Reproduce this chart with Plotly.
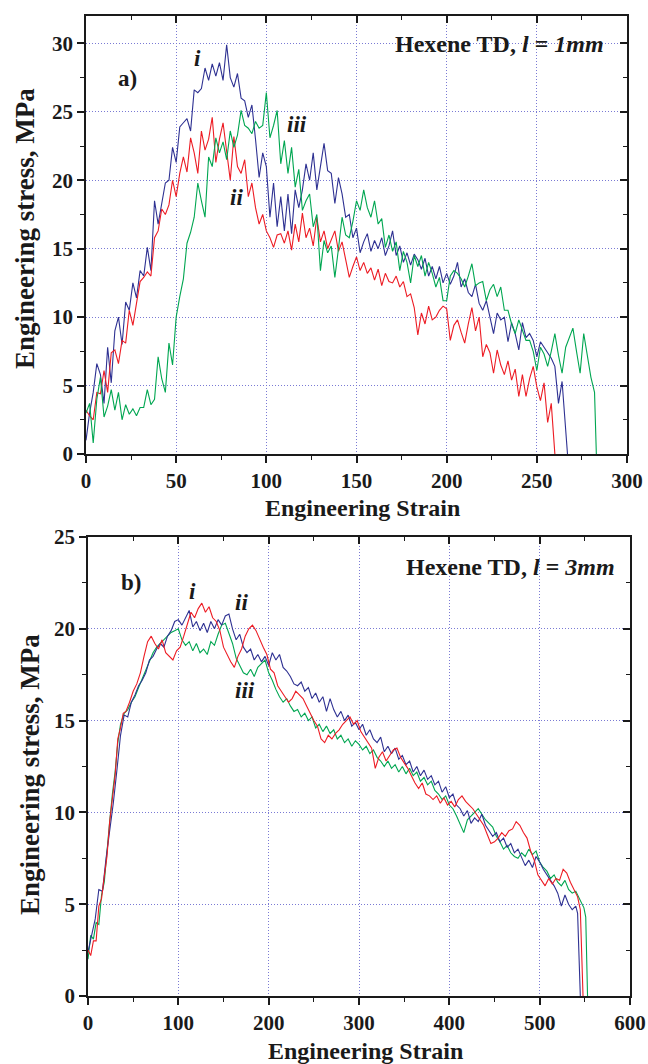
import plotly.graph_objects as go

# ---------------- Panel a) Hexene TD, l = 1mm ----------------
a_strain_i = [0,2,4,6,8,10,12,14,16,18,20,22,24,26,28,30,32,34,36,38,40,42,44,46,48,50,52,54,56,58,60,62,64,66,68,70,72,74,76,78,80,82,84,86,88,90,92,94,96,98,100,102,104,106,108,110,112,114,116,118,120,122,124,126,128,130,132,134,136,138,140,142,144,146,148,150,152,154,156,158,160,162,164,166,168,170,172,174,176,178,180,182,184,186,188,190,192,194,196,198,200,202,204,206,208,210,212,214,216,218,220,222,224,226,228,230,232,234,236,238,240,242,244,246,248,250,252,254,256,258,260,262,264,267]
a_stress_i = [1.0,3.0,4.5,6.6,5.8,3.7,7.8,5.2,9.0,10.0,8.0,11.1,10.5,12.5,11.4,13.4,13.0,15.1,13.4,18.5,16.8,18.2,19.8,20.0,22.4,21.3,23.9,24.2,24.5,23.6,26.6,26.4,26.7,28.2,27.3,28.5,27.6,28.6,27.3,29.9,27.5,26.8,27.8,26.0,25.8,24.6,25.5,23.0,20.2,22.0,21.0,17.3,19.8,16.6,18.8,16.3,19.0,16.1,19.3,18.0,19.3,21.2,20.0,22.0,19.3,21.0,22.7,20.7,20.5,18.3,20.2,19.0,17.3,17.5,15.8,16.5,14.7,15.5,16.1,14.8,15.6,15.0,15.8,14.5,15.2,16.3,14.5,15.2,14.0,14.7,13.8,14.6,14.2,13.5,14.3,13.0,13.7,12.8,13.7,12.5,13.2,12.4,13.0,14.0,12.2,12.8,11.8,11.5,12.4,11.0,10.5,11.2,10.0,8.8,10.3,9.8,10.0,8.2,9.6,8.8,7.6,9.6,8.5,8.8,8.3,7.1,8.2,7.8,7.4,7.0,6.4,3.7,5.3,0.0]

a_strain_ii = [0,2,4,6,8,10,12,14,16,18,20,22,24,26,28,30,32,34,36,38,40,42,44,46,48,50,52,54,56,58,60,62,64,66,68,70,72,74,76,78,80,82,84,86,88,90,92,94,96,98,100,102,104,106,108,110,112,114,116,118,120,122,124,126,128,130,132,134,136,138,140,142,144,146,148,150,152,154,156,158,160,162,164,166,168,170,172,174,176,178,180,182,184,186,188,190,192,194,196,198,200,202,204,206,208,210,212,214,216,218,220,222,224,226,228,230,232,234,236,238,240,242,244,246,248,250,252,254,256,258,260]
a_stress_ii = [3.2,2.8,2.5,4.5,4.4,6.1,4.5,7.4,7.6,6.6,8.3,8.1,10.5,9.4,11.0,12.6,12.9,13.3,13.0,15.8,16.3,17.9,17.5,18.2,20.0,18.8,20.5,21.7,20.6,23.1,22.0,20.5,23.6,22.2,23.0,24.6,21.3,23.0,24.2,22.0,20.0,23.2,21.0,20.5,21.5,18.8,19.8,18.0,16.8,17.5,16.3,15.8,15.1,16.0,16.1,15.4,16.3,14.9,16.8,15.5,17.6,15.8,16.5,15.2,17.3,15.5,16.3,15.0,15.6,16.3,14.8,15.5,14.2,12.9,13.7,14.4,13.4,14.0,13.2,13.6,12.7,13.5,12.3,13.2,12.6,12.5,13.0,12.2,12.6,11.5,11.7,10.7,8.7,10.3,9.5,10.8,9.8,10.0,10.5,10.8,10.6,8.3,9.4,9.8,8.9,8.1,9.5,10.7,9.0,10.0,7.1,8.0,7.4,5.9,7.6,6.5,5.8,6.8,5.4,6.2,4.2,5.8,4.2,5.5,6.4,4.9,3.9,5.2,2.3,3.7,0.0]

a_strain_iii = [0,2,4,6,8,10,12,14,16,18,20,22,24,26,28,30,32,34,36,38,40,42,44,46,48,50,52,54,56,58,60,62,64,66,68,70,72,74,76,78,80,82,84,86,88,90,92,94,96,98,100,102,104,106,108,110,112,114,116,118,120,122,124,126,128,130,132,134,136,138,140,142,144,146,148,150,152,154,156,158,160,162,164,166,168,170,172,174,176,178,180,182,184,186,188,190,192,194,196,198,200,202,204,206,208,210,212,214,216,218,220,222,224,226,228,230,232,234,236,238,240,242,244,246,248,250,252,254,256,258,260,262,264,266,268,270,272,274,276,278,280,282,283]
a_stress_iii = [3.0,3.7,0.8,4.0,5.6,2.7,3.5,4.7,3.2,4.5,2.5,3.6,2.9,3.3,2.8,3.4,3.4,4.7,3.6,4.0,7.1,5.5,4.5,8.1,6.5,10.0,11.5,12.8,15.4,16.2,17.3,19.8,18.5,17.3,21.7,21.0,23.1,22.0,22.8,21.5,23.6,22.4,23.3,25.1,24.0,23.8,23.4,24.3,23.8,24.0,26.4,23.1,24.0,25.1,21.2,22.9,20.5,22.4,19.5,20.8,17.8,18.5,19.0,16.6,17.5,13.4,15.6,14.7,15.2,12.9,15.0,17.3,16.0,15.8,17.0,18.5,17.8,19.3,18.0,17.3,18.5,16.8,17.2,15.1,16.0,14.8,15.5,13.4,14.8,14.0,12.5,14.5,13.7,14.5,13.0,14.0,13.2,12.2,12.9,11.2,11.2,13.0,13.4,13.2,12.8,12.2,13.0,13.9,12.3,12.5,12.6,11.2,12.0,12.4,11.5,12.2,10.5,10.5,9.5,8.8,9.8,9.0,8.3,8.3,7.5,6.1,7.8,7.3,6.4,7.5,8.8,7.2,5.9,7.8,8.5,9.2,7.5,5.9,8.8,7.3,5.6,4.5,0.0]

# ---------------- Panel b) Hexene TD, l = 3mm ----------------
b_strain_i = [0,4,8,12,16,20,24,28,32,36,40,44,48,52,56,60,64,68,72,76,80,84,88,92,96,100,104,108,112,116,120,124,128,132,136,140,144,148,152,156,160,164,168,172,176,180,184,188,192,196,200,204,208,212,216,220,224,228,232,236,240,244,248,252,256,260,264,268,272,276,280,284,288,292,296,300,304,308,312,316,320,324,328,332,336,340,344,348,352,356,360,364,368,372,376,380,384,388,392,396,400,404,408,412,416,420,424,428,432,436,440,444,448,452,456,460,464,468,472,476,480,484,488,492,496,500,504,508,512,516,520,524,528,532,536,540,542,545]
b_stress_i = [2.4,3.3,4.2,5.8,5.7,7.5,8.9,10.5,12.3,14.2,15.3,15.2,16.0,16.4,16.9,17.2,17.6,18.3,18.5,18.9,19.2,19.0,19.6,19.9,20.4,20.5,20.2,20.6,21.0,20.1,20.4,19.9,20.3,19.8,20.4,20.0,20.5,20.2,20.7,20.8,20.0,19.4,19.7,19.0,18.7,18.9,18.3,18.6,18.2,18.5,18.0,18.7,18.3,18.6,17.9,17.7,17.4,17.0,16.9,17.1,16.6,16.8,16.2,16.5,16.0,16.3,15.5,16.2,15.6,15.2,15.5,15.0,15.3,14.7,14.9,14.5,14.8,14.2,14.5,14.0,13.8,14.1,13.3,13.6,13.2,13.5,12.9,13.1,12.6,12.8,12.2,12.5,12.0,12.3,11.8,12.0,11.5,11.7,11.1,11.4,10.8,11.0,10.4,10.2,9.8,10.1,9.4,9.7,9.5,9.9,9.3,9.0,8.7,8.9,8.4,8.6,8.1,8.3,7.8,8.0,7.5,7.1,7.4,7.0,7.6,7.3,6.9,6.6,6.3,6.0,5.6,4.9,5.5,5.0,4.7,4.9,4.5,0.0]

b_strain_ii = [0,3,6,9,12,15,18,21,24,27,30,33,36,39,42,46,50,54,58,62,66,70,74,78,82,86,90,94,98,102,106,110,114,118,122,126,130,134,138,142,146,150,154,158,162,166,170,174,178,182,186,190,194,198,202,206,210,214,218,222,226,230,234,238,242,246,250,254,258,262,266,270,274,278,282,286,290,294,298,302,306,310,314,318,322,326,330,334,338,342,346,350,354,358,362,366,370,374,378,382,386,390,394,398,402,406,410,414,418,422,426,430,434,438,442,446,450,454,458,462,466,470,474,478,482,486,490,494,498,502,506,510,514,518,522,526,530,534,538,542,545,548]
b_stress_ii = [2.5,2.2,3.0,3.0,4.9,5.3,6.5,7.6,9.5,10.7,12.0,14.0,14.6,15.4,15.5,16.0,16.6,17.0,17.6,18.5,19.3,19.6,19.2,18.9,19.4,18.7,18.5,18.3,18.8,19.0,19.6,20.3,20.9,20.6,21.1,21.4,20.9,21.2,20.6,20.4,19.9,19.0,18.6,18.2,17.9,18.5,18.9,19.6,20.0,20.2,19.9,19.4,19.0,18.6,17.8,17.6,16.9,16.6,16.3,16.0,16.2,16.6,16.4,16.2,15.8,15.4,15.0,14.7,14.0,13.8,14.2,14.0,14.3,14.5,14.8,15.0,15.2,14.8,15.0,14.4,14.1,13.8,13.5,12.4,13.0,13.3,12.8,13.1,13.4,13.5,13.0,12.7,12.4,12.0,11.6,11.3,11.6,11.0,10.9,10.7,10.9,10.5,10.8,10.4,10.6,10.3,10.7,10.9,10.6,10.4,10.2,9.9,9.6,9.3,8.8,8.3,8.4,8.6,8.9,8.7,9.0,9.1,9.5,9.3,8.9,8.6,7.9,7.4,6.6,6.3,6.0,6.4,6.1,6.4,6.3,6.9,6.7,6.2,5.8,5.4,4.7,0.0]

b_strain_iii = [0,3,6,9,12,15,18,21,24,27,30,33,36,40,44,48,52,56,60,64,68,72,76,80,84,88,92,96,100,104,108,112,116,120,124,128,132,136,140,144,148,152,156,160,164,168,172,176,180,184,188,192,196,200,204,208,212,216,220,224,228,232,236,240,244,248,252,256,260,264,268,272,276,280,284,288,292,296,300,304,308,312,316,320,324,328,332,336,340,344,348,352,356,360,364,368,372,376,380,384,388,392,396,400,404,408,412,416,420,424,428,432,436,440,444,448,452,456,460,464,468,472,476,480,484,488,492,496,500,504,508,512,516,520,524,528,532,536,540,544,547,549,551,553]
b_stress_iii = [2.0,3.3,3.1,4.0,3.9,5.5,6.2,8.0,9.5,11.0,12.2,13.8,14.8,15.4,15.6,16.0,16.3,16.8,17.3,17.8,18.3,18.7,19.0,19.2,19.4,19.6,19.8,19.9,20.0,19.4,19.1,19.3,18.8,19.2,18.7,18.9,18.6,19.3,19.1,19.7,20.2,20.3,19.8,19.2,18.4,18.0,17.6,17.5,17.8,17.4,17.9,18.1,18.3,17.6,17.2,16.7,16.3,16.0,16.2,15.8,15.5,15.6,15.2,15.4,15.0,15.2,14.6,14.8,14.4,14.7,14.3,14.5,14.0,14.2,13.8,14.0,13.6,13.9,13.7,13.4,13.6,13.2,13.4,13.0,12.8,12.5,12.8,12.4,12.6,12.2,12.5,12.1,12.4,12.0,12.2,11.7,11.9,11.5,11.7,11.2,11.0,10.7,10.9,10.4,10.2,9.8,9.3,8.9,9.6,9.8,10.0,10.2,9.9,9.6,9.4,9.2,8.7,8.4,8.0,8.2,7.8,7.6,7.5,7.8,7.6,8.0,7.7,7.9,7.3,7.0,6.8,6.4,6.6,6.2,6.0,6.3,5.8,5.6,5.7,5.3,5.0,4.8,4.3,0.0]

COLORS = {"i": "#2e3192", "ii": "#ed1c24", "iii": "#00a651"}
FONT = "Liberation Serif"
W, H = 648, 1064

def px(x):
    return x / W

def py(y):
    return 1 - y / H

fig = go.Figure()
for xs, ys, key in [(a_strain_i, a_stress_i, "i"), (a_strain_ii, a_stress_ii, "ii"), (a_strain_iii, a_stress_iii, "iii")]:
    fig.add_trace(go.Scatter(x=xs, y=ys, mode="lines", line=dict(color=COLORS[key], width=1.1),
                             xaxis="x", yaxis="y", showlegend=False, hoverinfo="skip"))
for xs, ys, key in [(b_strain_iii, b_stress_iii, "iii"), (b_strain_i, b_stress_i, "i"), (b_strain_ii, b_stress_ii, "ii")]:
    fig.add_trace(go.Scatter(x=xs, y=ys, mode="lines", line=dict(color=COLORS[key], width=1.1),
                             xaxis="x2", yaxis="y2", showlegend=False, hoverinfo="skip"))
# dummy traces to activate mirror-tick axes
fig.add_trace(go.Scatter(x=[None], y=[None], xaxis="x3", yaxis="y3", showlegend=False))
fig.add_trace(go.Scatter(x=[None], y=[None], xaxis="x4", yaxis="y4", showlegend=False))

tickfont = dict(family=FONT, size=21, color="#1a1a1a", weight="bold")
grid = dict(showgrid=True, gridcolor="#7a7ad4", griddash="1px,2px", gridwidth=1)
base = dict(showline=True, linecolor="#1a1a1a", linewidth=1.8, mirror=True, ticks="outside",
            ticklen=7, tickwidth=1.5, tickcolor="#1a1a1a", tickfont=tickfont, zeroline=False,
            automargin=False)
mirror_ax = dict(showline=False, ticks="inside", ticklen=7, tickwidth=1.5, tickcolor="#1a1a1a",
                 showticklabels=False, showgrid=False, zeroline=False, automargin=False)

xa_dom = [px(86), px(627)]
ya_dom = [py(454), py(16)]
xb_dom = [px(88), px(630)]
yb_dom = [py(996), py(537)]

minor_out = dict(ticks="outside", ticklen=4, tickwidth=1.2, tickcolor="#1a1a1a", showgrid=False)
minor_in = dict(ticks="inside", ticklen=4, tickwidth=1.2, tickcolor="#1a1a1a", showgrid=False)

fig.update_layout(
    width=W, height=H, margin=dict(l=0, r=0, t=0, b=0, autoexpand=False), autosize=False,
    paper_bgcolor="white", plot_bgcolor="white",
    xaxis=dict(domain=xa_dom, anchor="y", range=[0, 300], dtick=50, tick0=0,
               minor=dict(dtick=25, **minor_out), **grid, **base),
    yaxis=dict(domain=ya_dom, anchor="x", range=[0, 32], dtick=5, tick0=0,
               minor=dict(dtick=2.5, **minor_out), **grid, **base),
    xaxis2=dict(domain=xb_dom, anchor="y2", range=[0, 600], dtick=100, tick0=0,
                minor=dict(dtick=50, **minor_out), **grid, **base),
    yaxis2=dict(domain=yb_dom, anchor="x2", range=[0, 25], dtick=5, tick0=0,
                minor=dict(dtick=2.5, **minor_out), **grid, **base),
    xaxis3=dict(overlaying="x", anchor="y", side="top", range=[0, 300], dtick=50, tick0=0,
                minor=dict(dtick=25, **minor_in), **mirror_ax),
    yaxis3=dict(overlaying="y", anchor="x", side="right", range=[0, 32], dtick=5, tick0=0,
                minor=dict(dtick=2.5, **minor_in), **mirror_ax),
    xaxis4=dict(overlaying="x2", anchor="y2", side="top", range=[0, 600], dtick=100, tick0=0,
                minor=dict(dtick=50, **minor_in), **mirror_ax),
    yaxis4=dict(overlaying="y2", anchor="x2", side="right", range=[0, 25], dtick=5, tick0=0,
                minor=dict(dtick=2.5, **minor_in), **mirror_ax),
)

def ann(text, x, y, size=24, angle=0, xanchor="center"):
    fig.add_annotation(text=text, x=px(x), y=py(y), xref="paper", yref="paper", showarrow=False,
                       textangle=angle, xanchor=xanchor, yanchor="middle",
                       font=dict(family=FONT, size=size, color="#1a1a1a"))

# axis titles
ann("<b>Engineering Strain</b>", 362, 508, size=24)
ann("<b>Engineering stress, MPa</b>", 25, 229, size=27, angle=-90)
ann("<b>Engineering Strain</b>", 366, 1051, size=24)
ann("<b>Engineering stress, MPa</b>", 30, 775, size=27, angle=-90)

# panel a labels
ann("<b>Hexene TD, <i>l = 1mm</i></b>", 606, 44, size=24, xanchor="right")
ann("<b>a)</b>", 127, 78, size=23)
ann("<b><i>i</i></b>", 197, 59, size=23)
ann("<b><i>ii</i></b>", 236, 198, size=23)
ann("<b><i>iii</i></b>", 297, 125, size=23)

# panel b labels
ann("<b>Hexene TD, <i>l = 3mm</i></b>", 617, 567, size=24, xanchor="right")
ann("<b>b)</b>", 131, 582, size=23)
ann("<b><i>i</i></b>", 192, 591, size=23)
ann("<b><i>ii</i></b>", 241, 602, size=23)
ann("<b><i>iii</i></b>", 245, 690, size=23)

fig.write_html("out.html", post_script="document.body.style.margin='0';document.body.style.overflow='hidden';")
